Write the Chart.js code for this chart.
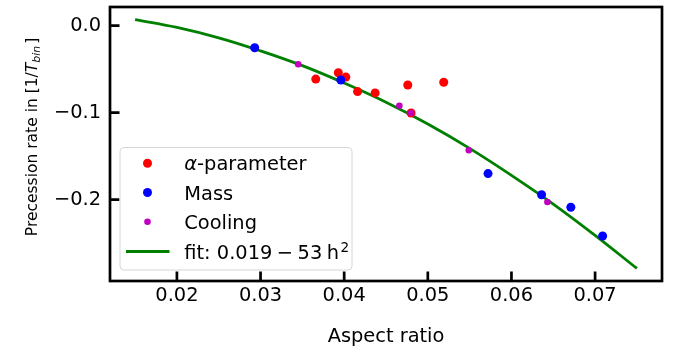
<!DOCTYPE html>
<html lang="en">
<head>
  <meta charset="UTF-8">
  <title>Precession rate vs aspect ratio</title>
  <script src="https://cdn.jsdelivr.net/npm/chart.js"></script>
  <style>
    body {
      margin: 0;
      background: #fff;
    }
    #wrap {
      width: 686px;
      height: 349px;
    }
  </style>
</head>
<body>
  <div id="wrap"><canvas id="chart" width="686" height="349"></canvas></div>

  <script>
    // values
    const alphaX = [0.0366, 0.0393, 0.0402, 0.0416, 0.0437, 0.0476, 0.0480, 0.0519];
    const alphaY = [-0.0614, -0.0542, -0.0591, -0.0758, -0.0773, -0.0682, -0.1004, -0.0651];
    const massX = [0.0293, 0.0396, 0.0572, 0.0636, 0.0671, 0.0709];
    const massY = [-0.0254, -0.0625, -0.1700, -0.1943, -0.2087, -0.2417];
    const coolX = [0.0345, 0.0466, 0.0480, 0.0549, 0.0643];
    const coolY = [-0.0443, -0.0920, -0.1004, -0.1432, -0.2027];
    // fit curve
    const fitX = [0.015, 0.020, 0.025, 0.030, 0.035, 0.040, 0.045, 0.050, 0.055, 0.060, 0.065, 0.070, 0.075];
    const fitY = [0.007, -0.002, -0.014, -0.029, -0.046, -0.066, -0.088, -0.113, -0.141, -0.172, -0.205, -0.241, -0.279];

    const xTicks = [0.02, 0.03, 0.04, 0.05, 0.06, 0.07];
    const yTicks = [0.0, -0.1, -0.2];
    const xRange = [0.012, 0.078];
    const yRange = [-0.2934, 0.0214];

    const FONT = '"DejaVu Sans", sans-serif';
    Chart.defaults.color = '#000';

    const pts = (xs, ys) => xs.map((x, i) => ({ x: x, y: ys[i] }));
    const fmt = v => (v < 0 ? '\u2212' : '') + Math.abs(v).toFixed(2).replace(/0$/, '');

    // frame, inward ticks, axis titles
    const framePlugin = {
      id: 'frame',
      afterDraw(chart) {
        const c = chart.ctx, a = chart.chartArea;
        const xs = chart.scales.x, ys = chart.scales.y;
        c.save();
        c.strokeStyle = '#000';
        c.lineWidth = 2.7;
        c.strokeRect(a.left, a.top, a.right - a.left, a.bottom - a.top);
        c.beginPath();
        xTicks.forEach(v => {
          const px = xs.getPixelForValue(v);
          c.moveTo(px, a.bottom);
          c.lineTo(px, a.bottom - 9.5);
        });
        yTicks.forEach(v => {
          const py = ys.getPixelForValue(v);
          c.moveTo(a.left, py);
          c.lineTo(a.left + 9.5, py);
        });
        c.stroke();

        // x title
        c.fillStyle = '#000';
        c.font = '19.4px ' + FONT;
        c.textAlign = 'center';
        c.textBaseline = 'alphabetic';
        c.fillText('Aspect ratio', (a.left + a.right) / 2, 341.5);

        // y title, rotated, with italic T and subscript
        c.translate(36.5, 137);
        c.rotate(-Math.PI / 2);
        c.textAlign = 'left';
        const parts = [
          { t: 'Precession rate in [1/', f: '15.5px ' + FONT, dy: 0 },
          { t: 'T', f: 'italic 15.5px ' + FONT, dy: 0 },
          { t: 'bin', f: 'italic 10.9px ' + FONT, dy: 3 },
          { t: ']', f: '15.5px ' + FONT, dy: 0 }
        ];
        let total = 0;
        parts.forEach(p => { c.font = p.f; p.w = c.measureText(p.t).width; total += p.w; });
        total += 2;
        let x = -total / 2;
        parts.forEach((p, i) => {
          c.font = p.f;
          c.fillText(p.t, x, p.dy);
          x += p.w + (i === 2 ? 2 : 0);
        });
        c.restore();
      }
    };

    // legend box drawn inside the axes
    const legendPlugin = {
      id: 'boxLegend',
      afterDraw(chart) {
        const c = chart.ctx;
        c.save();
        const bx = 120, by = 147.5, bw = 232, bh = 122.5;
        c.beginPath();
        c.roundRect(bx, by, bw, bh, 4);
        c.fillStyle = 'rgba(255,255,255,0.8)';
        c.fill();
        c.strokeStyle = '#d6d6d6';
        c.lineWidth = 1;
        c.stroke();

        const rows = [163.3, 192.5, 221.7, 251.5];
        const mx = 147.5, tx = 184.3;
        const marks = [['#ff0000', 4.5], ['#0000ff', 4.5], ['#bf00bf', 3.3]];
        marks.forEach((m, i) => {
          c.beginPath();
          c.arc(mx, rows[i], m[1], 0, Math.PI * 2);
          c.fillStyle = m[0];
          c.fill();
        });
        c.beginPath();
        c.moveTo(126, rows[3]);
        c.lineTo(169.5, rows[3]);
        c.strokeStyle = '#008000';
        c.lineWidth = 2.8;
        c.stroke();

        c.fillStyle = '#000';
        c.textBaseline = 'alphabetic';
        c.textAlign = 'left';
        const base = i => rows[i] + 7;
        const reg = '19.4px ' + FONT, ita = 'italic 19.4px ' + FONT;
        c.font = ita;
        c.fillText('\u03b1', tx, base(0));
        let w = c.measureText('\u03b1').width;
        c.font = reg;
        c.fillText('-parameter', tx + w, base(0));
        c.fillText('Mass', tx, base(1));
        c.fillText('Cooling', tx, base(2));

        let x = tx;
        const seq = [['fit: 0.019', 4.5], ['\u2212', 4.5], ['53', 4.5], ['h', 1.5]];
        seq.forEach(s => {
          c.fillText(s[0], x, base(3));
          x += c.measureText(s[0]).width + s[1];
        });
        c.font = '13.6px ' + FONT;
        c.fillText('2', x, base(3) - 7);
        c.restore();
      }
    };

    new Chart(document.getElementById('chart'), {
      type: 'scatter',
      data: {
        datasets: [
          {
            label: 'fit: 0.019 \u2212 53 h\u00b2',
            type: 'line',
            data: pts(fitX, fitY),
            borderColor: '#008000',
            borderWidth: 2.8,
            pointRadius: 0,
            fill: false,
            tension: 0.4,
            order: 4
          },
          {
            label: '\u03b1-parameter',
            data: pts(alphaX, alphaY),
            backgroundColor: '#ff0000',
            borderWidth: 0,
            pointRadius: 4.5,
            order: 3
          },
          {
            label: 'Mass',
            data: pts(massX, massY),
            backgroundColor: '#0000ff',
            borderWidth: 0,
            pointRadius: 4.5,
            order: 2
          },
          {
            label: 'Cooling',
            data: pts(coolX, coolY),
            backgroundColor: '#bf00bf',
            borderWidth: 0,
            pointRadius: 3.3,
            order: 1
          }
        ]
      },
      options: {
        responsive: false,
        animation: false,
        events: [],
        layout: { padding: { left: 0, right: 24, top: 7, bottom: 0 } },
        plugins: {
          legend: { display: false },
          tooltip: { enabled: false }
        },
        scales: {
          x: {
            type: 'linear',
            min: xRange[0],
            max: xRange[1],
            afterFit: s => { s.height = 68; s.paddingLeft = 0; s.paddingRight = 0; },
            afterBuildTicks: s => { s.ticks = xTicks.map(v => ({ value: v })); },
            grid: { display: false, drawTicks: false },
            border: { display: false },
            ticks: {
              padding: 3,
              font: { family: FONT, size: 19.4 },
              color: '#000',
              callback: v => fmt(v)
            }
          },
          y: {
            type: 'linear',
            min: yRange[0],
            max: yRange[1],
            afterFit: s => { s.width = 110; s.paddingTop = 0; s.paddingBottom = 0; },
            afterBuildTicks: s => { s.ticks = yTicks.map(v => ({ value: v })); },
            grid: { display: false, drawTicks: false },
            border: { display: false },
            ticks: {
              padding: 9,
              font: { family: FONT, size: 19.4 },
              color: '#000',
              callback: v => (v < 0 ? '\u2212' : '') + Math.abs(v).toFixed(1)
            }
          }
        }
      },
      plugins: [framePlugin, legendPlugin]
    });
  </script>
</body>
</html>
